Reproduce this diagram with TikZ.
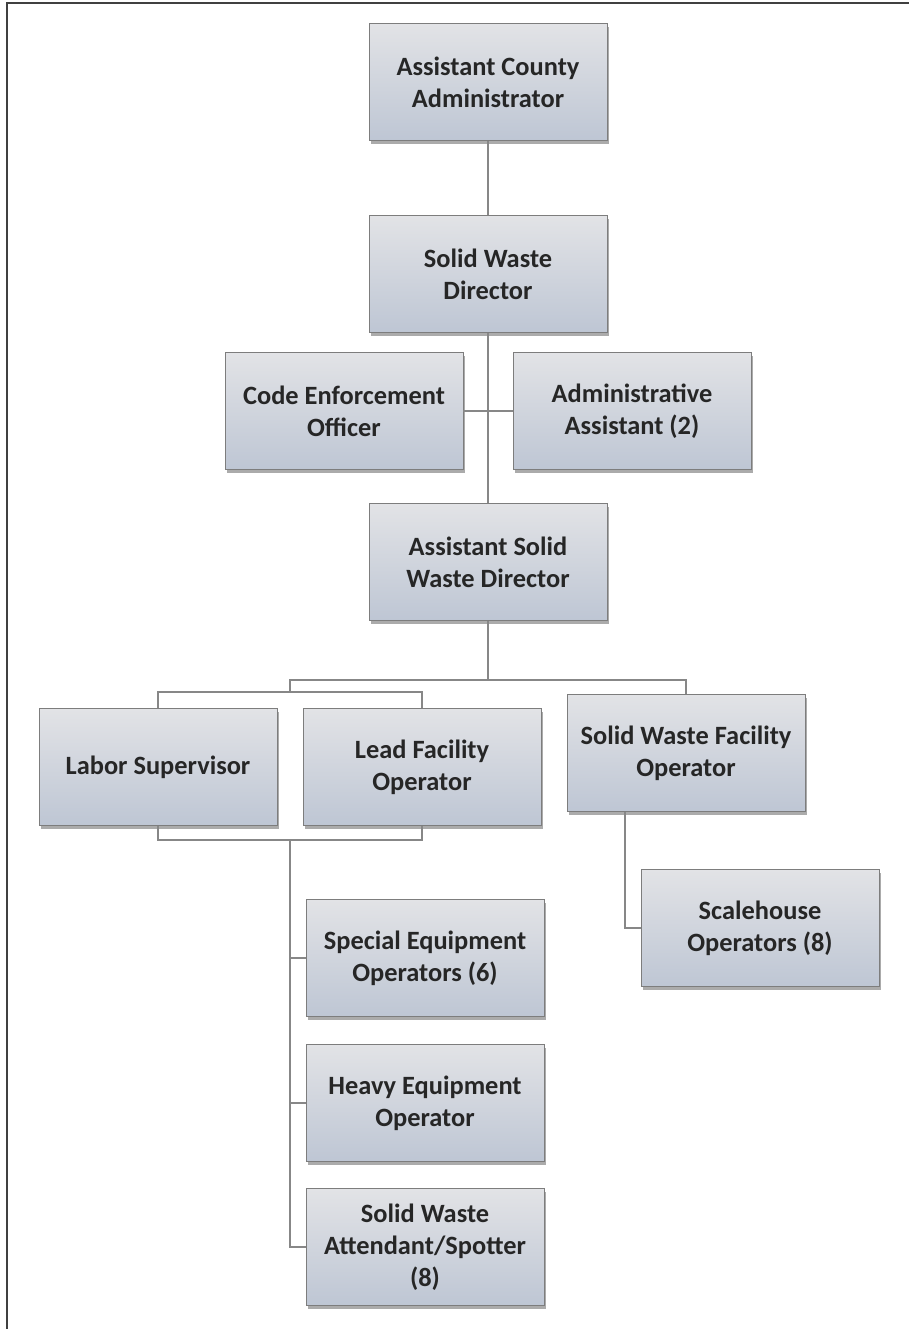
\documentclass[tikz,border=0pt]{standalone}
\usepackage{fontspec}
\setmainfont{Carlito}
\usetikzlibrary{calc,shadows}
\definecolor{boxtop}{RGB}{226,227,230}
\definecolor{boxmid}{RGB}{240,241,243}
\definecolor{boxbot}{RGB}{190,198,212}
\definecolor{boxline}{RGB}{125,125,125}
\definecolor{wire}{RGB}{135,135,135}
\tikzset{
  post/.style={draw=boxline,line width=0.6pt,top color=boxtop,middle color=boxmid,bottom color=boxbot,
    minimum width=178.5pt,minimum height=87.75pt,align=center,inner sep=2pt,
    font=\fontsize{19.8}{24}\selectfont\bfseries,text=black!85,
    drop shadow={shadow xshift=1.2pt,shadow yshift=-2.5pt,fill=black!55,opacity=0.6}},
  link/.style={draw=wire,line width=0.8pt}
}
\begin{document}
\begin{tikzpicture}[x=0.75pt,y=-0.75pt]
\useasboundingbox (0,0) rectangle (909,1329);
\draw[black!75,line width=1.4pt] (7,1329) -- (7,3) -- (909,3);
% posts
\node[post] (aca) at (488,82) {Assistant County\\Administrator};
\node[post] (swd) at (488,274) {Solid Waste\\Director};
\node[post] (ceo) at (344,411) {Code Enforcement\\Officer};
\node[post] (aa) at (632,411) {Administrative\\Assistant (2)};
\node[post] (aswd) at (488,562) {Assistant Solid\\Waste Director};
\node[post] (ls) at (158,767) {Labor Supervisor};
\node[post] (lfo) at (422,767) {Lead Facility\\Operator};
\node[post] (swfo) at (686,753) {Solid Waste Facility\\Operator};
\node[post] (seo) at (425,958) {Special Equipment\\Operators (6)};
\node[post] (heo) at (425,1103) {Heavy Equipment\\Operator};
\node[post] (swa) at (425,1247) {Solid Waste\\Attendant/Spotter\\(8)};
\node[post] (so) at (760,928) {Scalehouse\\Operators (8)};
% bends
\coordinate (busa) at (488,680);
\coordinate (busl) at (290,680);
\coordinate (busb) at (290,692);
\coordinate (brk) at (290,840);
\coordinate (drop) at (625,812);
% links
\draw[link] (aca) -- (swd);
\draw[link] (swd) -- (aswd);
\draw[link] (ceo) -- (aa);
\draw[link] (aswd) -- (busa) -- (busl) -- (busb);
\draw[link] (busa) -| (swfo);
\draw[link] (ls.north) |- (busb) -| (lfo.north);
\draw[link] (ls.south) |- (brk) -| (lfo.south);
\draw[link] (brk) |- (swa.west);
\draw[link] (brk |- seo.west) -- (seo.west);
\draw[link] (brk |- heo.west) -- (heo.west);
\draw[link] (drop) |- (so.west);
\end{tikzpicture}
\end{document}
